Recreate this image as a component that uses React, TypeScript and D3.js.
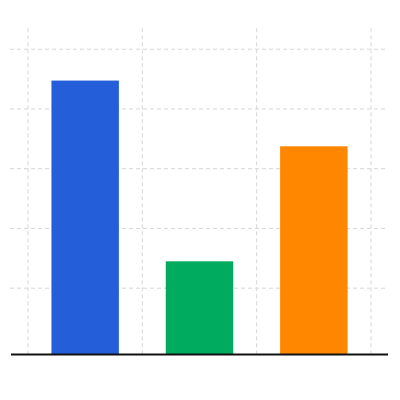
import React from "react";
import * as d3 from "d3";

const categories = ["A", "B", "C"];
const values = [89.5, 29, 67.5];
const colors = ["#245ed8", "#00ab5f", "#ff8700"];
const gridValues = [20, 40, 60, 80, 100];

const width = 400;
const height = 400;
const yMin = -2.2;
const yMax = 107;

export default function App() {
  const x = d3.scaleBand<string>()
    .domain(categories)
    .range([28, 371])
    .padding(0);
  const y = d3.scaleLinear()
    .domain([yMin, yMax])
    .range([354.5, 28.3]);
  const barWidth = x.bandwidth() * 0.59;
  const vLines = categories.map(c => x(c)!).concat([x.range()[1]]);

  return (
    <svg
      width={width}
      height={height}
      style={{ position: "absolute", left: 0, top: 0, background: "#fff" }}
    >
      <g stroke="#d6d6d6" strokeWidth={1} strokeDasharray="4,3">
        {gridValues.map(v => (
          <line key={"h" + v} x1={10} x2={387} y1={y(v)} y2={y(v)} />
        ))}
        {vLines.map((vx, i) => (
          <line key={"v" + i} x1={vx} x2={vx} y1={y(yMax)} y2={y(yMin)} />
        ))}
      </g>
      {categories.map((c, i) => (
        <rect
          key={c}
          x={x(c)! + (x.bandwidth() - barWidth) / 2}
          y={y(values[i])}
          width={barWidth}
          height={y(yMin) - y(values[i])}
          fill={colors[i]}
        />
      ))}
      <line x1={11} x2={388} y1={y(yMin)} y2={y(yMin)} stroke="#111" strokeWidth={2} />
    </svg>
  );
}
